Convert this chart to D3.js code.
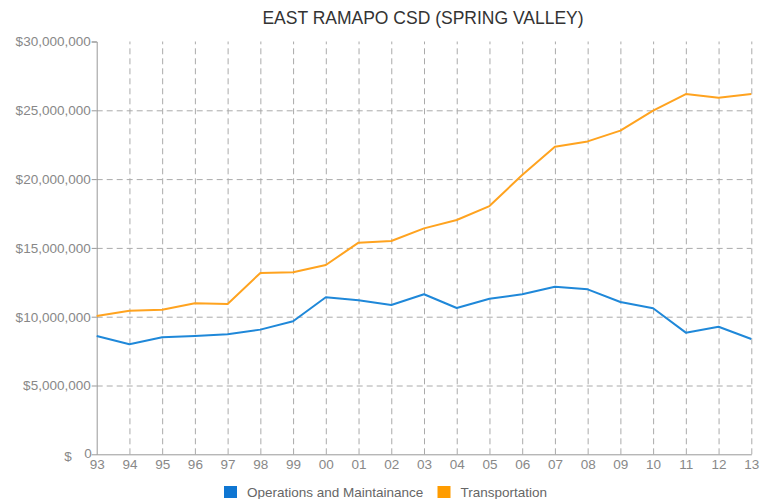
<!DOCTYPE html>
<html>
  <head>
    <meta charset="utf-8">
    <title></title>
    <style>
      body {
        margin: 0;
        background: #fff;
        font-family: "Liberation Sans", Arial, sans-serif;
      }
      svg {
        display: block;
      }
      .grid line {
        stroke: #aaa;
        stroke-dasharray: 6,4;
      }
      .grid .domain {
        stroke: none;
      }
      .axis .domain, .axis line {
        stroke: #999;
      }
      .axis text {
        fill: #888;
        font-size: 13.5px;
      }
    </style>
  </head>
  <body>
    <div id="chart"></div>
    <script src="https://cdn.jsdelivr.net/npm/d3@7/dist/d3.min.js"></script>
    <script>

      let years = ['93','94','95','96','97','98','99','00','01','02','03','04','05','06','07','08','09','10','11','12','13'];

      let operations = [8.6, 8.0, 8.5, 8.6, 8.72, 9.06, 9.67, 11.41, 11.19, 10.85, 11.63, 10.63, 11.31, 11.63, 12.18, 11.99, 11.07, 10.61, 8.84, 9.27, 8.38];
      let transportation = [10.05, 10.44, 10.51, 10.97, 10.92, 13.18, 13.23, 13.76, 15.38, 15.5, 16.42, 17.03, 18.04, 20.3, 22.35, 22.74, 23.52, 24.97, 26.18, 25.92, 26.18];

      let yTicks = [0, 5, 10, 15, 20, 25, 30];

      let series = [
        {name: 'Operations and Maintainance', values: operations, color: '#1f88d9', key: '#0f76d2'},
        {name: 'Transportation', values: transportation, color: '#ffa31f', key: '#ff9c00'}
      ];

      let elWidth = 774, elHeight = 499;
      let margin = {top: 41.5, right: 22.7, bottom: 44.7, left: 96.7};
      let width = elWidth - margin.left - margin.right;
      let height = elHeight - margin.top - margin.bottom;

      let svg = d3.select('#chart').append('svg')
        .attr('width', elWidth)
        .attr('height', elHeight);

      svg.append('text')
        .attr('x', 423)
        .attr('y', 24)
        .attr('text-anchor', 'middle')
        .attr('fill', '#333')
        .style('font-size', '17.5px')
        .text('EAST RAMAPO CSD (SPRING VALLEY)');

      let g = svg.append('g').attr('transform', 'translate(' + margin.left + ',' + margin.top + ')');

      let x = d3.scalePoint().domain(years).range([0, width]);
      let y = d3.scaleLinear().domain([0, 30]).range([height, 0]);

      // grid
      g.append('g')
        .attr('class', 'grid')
        .call(d3.axisLeft(y).tickValues(yTicks.filter(d => d > 0 && d < 30)).tickSize(-width).tickFormat(''));

      g.append('g')
        .attr('class', 'grid')
        .attr('transform', 'translate(0,' + height + ')')
        .call(d3.axisBottom(x).tickValues(years.slice(1)).tickSize(height).tickFormat(''))
        .selectAll('line')
        .attr('y1', 0).attr('y2', -height);

      // axes
      let fmt = d3.format(',');
      let yAxis = g.append('g')
        .attr('class', 'axis')
        .call(d3.axisLeft(y).tickValues(yTicks).tickSize(5).tickPadding(1)
          .tickFormat(d => d === 0 ? '0' : '$' + fmt(d * 1000000)));
      let zero = yAxis.selectAll('.tick').filter(d => d === 0);
      zero.select('line').remove();
      zero.select('text')
        .attr('x', -5).attr('dy', '0.75em').attr('y', -7);
      zero.append('text')
        .attr('x', -25).attr('dy', '0.75em').attr('y', -4)
        .attr('fill', '#888')
        .attr('text-anchor', 'end')
        .text('$');

      g.append('g')
        .attr('class', 'axis')
        .attr('transform', 'translate(0,' + height + ')')
        .call(d3.axisBottom(x).tickSize(0).tickPadding(5));

      // lines
      let line = d3.line()
        .x((d, i) => x(years[i]))
        .y(d => y(d));

      series.forEach(s => {
        g.append('path')
          .datum(s.values)
          .attr('fill', 'none')
          .attr('stroke', s.color)
          .attr('stroke-width', 2)
          .attr('stroke-linejoin', 'round')
          .attr('d', line);
      });

      // legend
      let legend = svg.append('g').attr('transform', 'translate(224,486)');
      let offsets = [0, 213.5];
      series.forEach((s, i) => {
        let item = legend.append('g').attr('transform', 'translate(' + offsets[i] + ',0)');
        item.append('rect')
          .attr('width', 13).attr('height', 12)
          .attr('fill', s.key);
        item.append('text')
          .attr('x', 23).attr('y', 10.5)
          .attr('fill', '#666')
          .style('font-size', '13.5px')
          .text(s.name);
      });

    </script>
  </body>
</html>
